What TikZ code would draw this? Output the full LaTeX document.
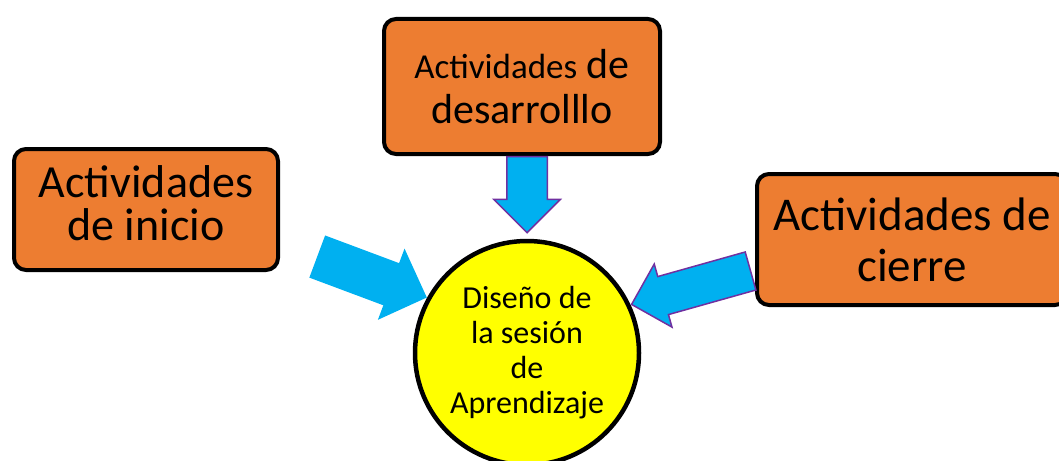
\documentclass[tikz,border=0pt]{standalone}
\usepackage{fontspec}
\setmainfont{Carlito}
\usetikzlibrary{shapes.arrows}

\definecolor{boxorange}{HTML}{ED7D31}
\definecolor{arrowblue}{HTML}{00B0F0}
\definecolor{arrowline}{HTML}{7030A0}
\definecolor{circyellow}{HTML}{FFFF00}

\tikzset{
    stagebox/.style={draw=black, line width=4pt, fill=boxorange, rounded corners=12pt, align=center, inner sep=0pt},
    blockarrow/.style={single arrow, fill=arrowblue, inner xsep=0pt, single arrow tip angle=90},
}

\begin{document}
\begin{tikzpicture}[x=1pt, y=1pt]
    \useasboundingbox (0,0) rectangle (1059,-460);
    \clip (0,0) rectangle (1059,-460);

    % Boxes
    \node[stagebox, minimum width=264pt, minimum height=121pt, font=\fontsize{46}{43}\selectfont] (inicio) at (146,-209.5) {Actividades\\de inicio\rule[-13pt]{0pt}{13pt}};
    \node[stagebox, minimum width=276pt, minimum height=135pt, font=\fontsize{42}{45}\selectfont] (desarrollo) at (522,-86.5) {{\fontsize{35}{45}\selectfont Actividades} de\\desarrolllo};
    \node[stagebox, minimum width=310pt, minimum height=131pt, font=\fontsize{47}{51}\selectfont] (cierre) at (912,-239.5) {Actividades de\\cierre};

    % Centre
    \node[draw=black, circle, line width=4.5pt, fill=circyellow, minimum size=224pt, inner sep=0pt, align=center, font=\fontsize{32}{35}\selectfont] (diseno) at (527,-353) {Diseño de\\la sesión\\de\\Aprendizaje};

    % Arrows
    \node[blockarrow, minimum height=117pt, inner ysep=22.3pt, single arrow head extend=15.5pt, rotate=-20.5, anchor=tip] (inarrow) at (diseno.151.7) {};
    \node[blockarrow, draw=arrowline, line width=1.5pt, minimum height=76pt, inner ysep=19.5pt, single arrow head extend=13pt, rotate=-90, anchor=tip] (devarrow) at ([yshift=5pt]diseno.north) {};
    \node[blockarrow, draw=arrowline, line width=1.5pt, minimum height=123.6pt, inner ysep=19pt, single arrow head extend=13pt, rotate=195.7, anchor=tip] (outarrow) at (diseno.25.2) {};
\end{tikzpicture}
\end{document}
